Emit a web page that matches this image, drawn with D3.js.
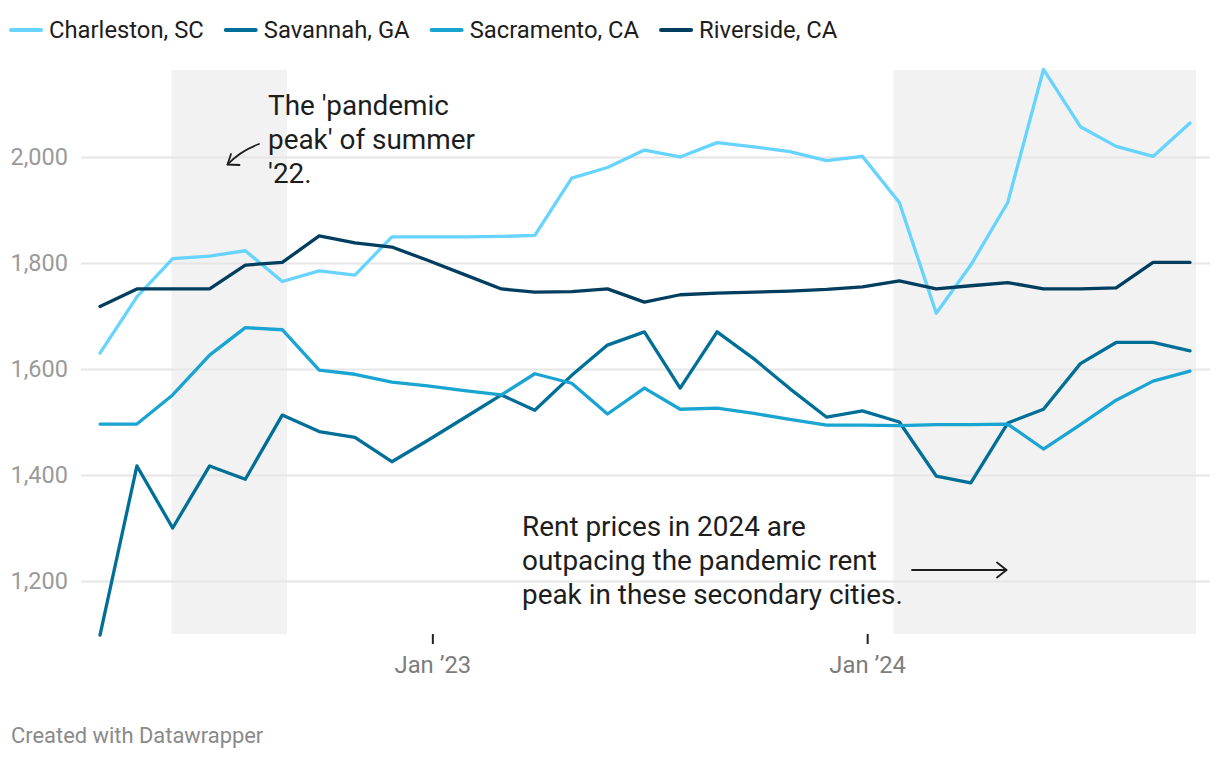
<!DOCTYPE html>
<html>
<head>
<meta charset="utf-8">
<script src="https://cdn.jsdelivr.net/npm/d3@7"></script>
<style>
  html, body { margin: 0; padding: 0; background: #fff; }
  svg { display: block; font-family: Roboto, "Noto Sans", sans-serif; }
</style>
</head>
<body>
<svg id="chart" width="1220" height="762"></svg>
<script>
// ---------- DATA ----------
const dates = [
  "2022-03-28","2022-04-28","2022-05-28","2022-06-28","2022-07-28","2022-08-28",
  "2022-09-28","2022-10-28","2022-11-28","2022-12-28","2023-01-28","2023-02-28",
  "2023-03-28","2023-04-28","2023-05-28","2023-06-28","2023-07-28","2023-08-28",
  "2023-09-28","2023-10-28","2023-11-28","2023-12-28","2024-01-28","2024-02-28",
  "2024-03-28","2024-04-28","2024-05-28","2024-06-28","2024-07-28","2024-08-28",
  "2024-09-28"
];
const seriesNames = ["Charleston, SC", "Savannah, GA", "Sacramento, CA", "Riverside, CA"];
const charleston = [1630,1736,1808,1813,1823,1765,1785,1777,1849,1849,1849,1850,1852,1960,1980,2013,2000,2027,2019,2010,1993,2001,1914,1705,1796,1914,2165,2057,2020,2001,2064];
const savannah   = [1098,1417,1300,1417,1392,1513,1482,1471,1425,1465,1508,1551,1522,1588,1645,1670,1564,1670,1619,1563,1509,1521,1500,1398,1385,1498,1524,1610,1650,1650,1634];
const sacramento = [1496,1496,1551,1626,1678,1674,1598,1590,1575,1568,1559,1551,1591,1573,1515,1564,1524,1526,1516,1505,1494,1494,1493,1495,1495,1496,1449,1495,1541,1577,1596];
const riverside  = [1718,1751,1751,1751,1796,1801,1851,1838,1830,1805,1778,1751,1745,1746,1751,1726,1740,1743,1745,1747,1750,1755,1766,1751,1757,1763,1751,1751,1753,1801,1801];
const colors = ["#66d4ff", "#006f97", "#19a4d1", "#003d5f"];
const yTicks = [1200, 1400, 1600, 1800, 2000];
const xTicks = ["2023-01-01", "2024-01-01"];
const shadedRanges = [["2022-05-27","2022-09-01"], ["2024-01-23","2024-10-03"]];
const note1 = ["The 'pandemic", "peak' of summer", "'22."];
const note2 = ["Rent prices in 2024 are", "outpacing the pandemic rent", "peak in these secondary cities."];
const credit = "Created with Datawrapper";

// ---------- SETUP ----------
const parse = d3.timeParse("%Y-%m-%d");
const dts = dates.map(parse);
const allValues = [charleston, savannah, sacramento, riverside];
const series = seriesNames.map((name, i) => ({
  name, color: colors[i],
  values: allValues[i].map((v, j) => ({ date: dts[j], value: v }))
}));

const svg = d3.select("#chart");
const x = d3.scaleTime().domain([dts[0], dts[dts.length - 1]]).range([100, 1190]);
const y = d3.scaleLinear().domain([1100, 2164]).range([634, 70]);

// shaded periods
svg.append("g").selectAll("rect").data(shadedRanges).join("rect")
  .attr("x", d => x(parse(d[0])))
  .attr("width", d => x(parse(d[1])) - x(parse(d[0])))
  .attr("y", y(2164))
  .attr("height", y(1100) - y(2164))
  .attr("fill", "#f2f2f2");

// gridlines + y labels
const yAxis = d3.axisLeft(y).tickValues(yTicks).tickFormat(d3.format(",")).tickSize(-(1210 - 81)).tickPadding(13);
const gy = svg.append("g").attr("transform", "translate(81,0)").call(yAxis);
gy.select(".domain").remove();
gy.selectAll(".tick line").attr("stroke", "#e6e6e6").attr("stroke-width", 2);
gy.selectAll(".tick text").attr("fill", "#9a9a9a").style("font-size", "23.5px")
  .style("font-family", "Roboto").attr("dy", "0.33em");

// x axis
const xAxis = d3.axisBottom(x).tickValues(xTicks.map(parse))
  .tickFormat(d3.timeFormat("%b \u2019%y")).tickSize(10).tickPadding(12);
const gx = svg.append("g").attr("transform", "translate(0,634)").call(xAxis);
gx.select(".domain").remove();
gx.selectAll(".tick line").attr("stroke", "#222").attr("stroke-width", 2);
gx.selectAll(".tick text").attr("fill", "#7d7d7d").style("font-size", "23.8px")
  .style("font-family", "Roboto").attr("dy", "0.71em");

// lines
const line = d3.line().x(d => x(d.date)).y(d => y(d.value)).defined(d => d.value != null);
svg.append("g").selectAll("path").data(series).join("path")
  .attr("d", d => line(d.values))
  .attr("fill", "none")
  .attr("stroke", d => d.color)
  .attr("stroke-width", 3.3)
  .attr("stroke-linejoin", "round")
  .attr("stroke-linecap", "round");

// legend
const lg = svg.append("g");
let lx = 11;
series.forEach(s => {
  lg.append("line").attr("x1", lx).attr("x2", lx + 30).attr("y1", 30).attr("y2", 30)
    .attr("stroke", s.color).attr("stroke-width", 4).attr("stroke-linecap", "round");
  const t = lg.append("text").attr("x", lx + 38).attr("y", 38)
    .attr("fill", "#1d1d1d").style("font-size", "23.8px").text(s.name);
  lx += 38 + t.node().getComputedTextLength() + 22;
});

// annotations
const a1 = svg.append("text").attr("fill", "#1d1d1d").style("font-size", "27.9px");
note1.forEach((l, i) => a1.append("tspan").attr("x", 268).attr("y", 115 + i * 34).text(l));
const a2 = svg.append("text").attr("fill", "#1d1d1d").style("font-size", "27.9px");
note2.forEach((l, i) => a2.append("tspan").attr("x", 522).attr("y", 536 + i * 34).text(l));

const arrowStyle = sel => sel.attr("fill", "none").attr("stroke", "#1d1d1d").attr("stroke-width", 1.8)
  .attr("stroke-linecap", "round").attr("stroke-linejoin", "round");
svg.append("path").attr("d", "M259,144 Q240,151 227.5,164.5").call(arrowStyle);
svg.append("path").attr("d", "M231,154 L227.5,164.5 L239.5,165").call(arrowStyle);
svg.append("path").attr("d", "M912,570 L1006.5,570").call(arrowStyle);
svg.append("path").attr("d", "M997,562.5 L1006.5,570 L997,577.5").call(arrowStyle);

// credit
svg.append("text").attr("x", 11).attr("y", 743).attr("fill", "#8a8a8a")
  .style("font-size", "21.9px").text(credit);
</script>
</body>
</html>
